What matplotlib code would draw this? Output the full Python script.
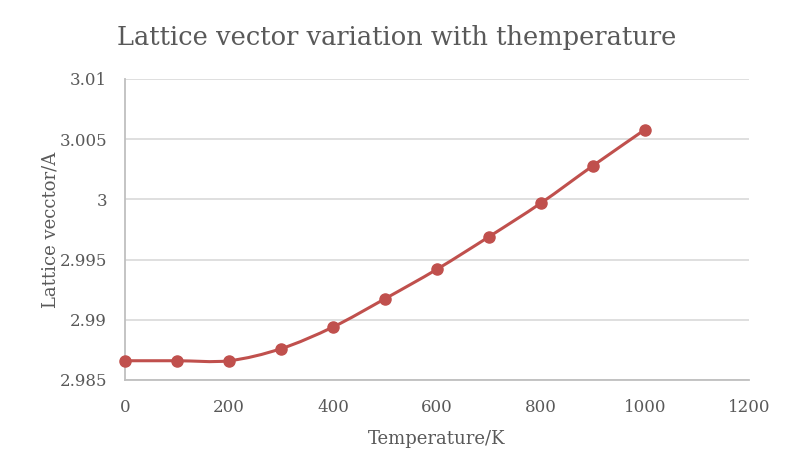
import matplotlib
matplotlib.use("Agg")
import matplotlib.pyplot as plt
import numpy as np
from matplotlib.path import Path
from matplotlib.patches import PathPatch

# data
temperature = [0, 100, 200, 300, 400, 500, 600, 700, 800, 900, 1000]
lattice = [2.9866, 2.9866, 2.9866, 2.9876, 2.9894, 2.99175, 2.9942,
           2.9969, 2.9997, 3.0028, 3.0058]
yticks = [2.985, 2.99, 2.995, 3.0, 3.005, 3.01]
ytick_labels = ["2.985", "2.99", "2.995", "3", "3.005", "3.01"]
xticks = [0, 200, 400, 600, 800, 1000, 1200]

red = "#C0504D"
text_col = "#595959"

plt.rcParams['font.family'] = ['DejaVu Serif']

fig = plt.figure(figsize=(7.93, 4.75), dpi=100)
ax = fig.add_axes([125 / 793, 95 / 475, 624 / 793, 301 / 475])

# smoothed line like Excel: Catmull-Rom style bezier segments
x = np.array(temperature, dtype=float)
y = np.array(lattice, dtype=float)
verts = [(x[0], y[0])]
codes = [Path.MOVETO]
n = len(x)
for i in range(n - 1):
    p0 = (x[i - 1], y[i - 1]) if i > 0 else (x[i], y[i])
    p1 = (x[i], y[i])
    p2 = (x[i + 1], y[i + 1])
    p3 = (x[i + 2], y[i + 2]) if i + 2 < n else (x[i + 1], y[i + 1])
    c1 = (p1[0] + (p2[0] - p0[0]) / 6, p1[1] + (p2[1] - p0[1]) / 6)
    c2 = (p2[0] - (p3[0] - p1[0]) / 6, p2[1] - (p3[1] - p1[1]) / 6)
    verts += [c1, c2, p2]
    codes += [Path.CURVE4] * 3
ax.add_patch(PathPatch(Path(verts, codes), facecolor='none', edgecolor=red,
                       lw=2.2, zorder=3, capstyle='round'))
ax.plot(temperature, lattice, 'o', color=red, ms=8, zorder=4, clip_on=False)

ax.set_xlim(0, 1200)
ax.set_ylim(2.985, 3.01)
ax.set_xticks(xticks)
ax.set_yticks(yticks)
ax.set_yticklabels(ytick_labels)
ax.grid(axis='y', color='#D9D9D9', lw=1.2)
ax.set_axisbelow(True)
for s in ['top', 'right']:
    ax.spines[s].set_visible(False)
for s in ['left', 'bottom']:
    ax.spines[s].set_color('#BFBFBF')
    ax.spines[s].set_linewidth(1.3)
ax.tick_params(length=0, labelsize=12, colors=text_col)
ax.tick_params(axis='y', pad=13)
ax.tick_params(axis='x', pad=14)

ax.set_xlabel("Temperature/K", fontsize=13, color=text_col, labelpad=10)
ax.set_ylabel("Lattice vecctor/A", fontsize=13, color=text_col, labelpad=0)
fig.text(0.5, 0.922, "Lattice vector variation with themperature",
         ha='center', va='center', fontsize=18.5, color=text_col)

fig.savefig("out.png", dpi=100)
